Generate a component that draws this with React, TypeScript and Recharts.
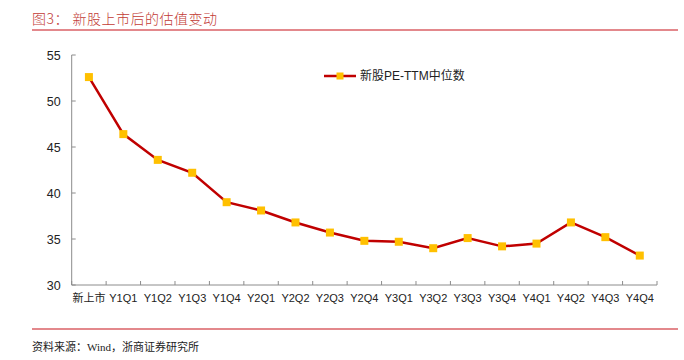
import React from 'react';
import { LineChart, Line, XAxis, YAxis, Legend } from 'recharts';

const categories = ['新上市', 'Y1Q1', 'Y1Q2', 'Y1Q3', 'Y1Q4', 'Y2Q1', 'Y2Q2', 'Y2Q3', 'Y2Q4', 'Y3Q1', 'Y3Q2', 'Y3Q3', 'Y3Q4', 'Y4Q1', 'Y4Q2', 'Y4Q3', 'Y4Q4'];
const peMedian = [52.6, 46.4, 43.6, 42.2, 39.0, 38.1, 36.8, 35.7, 34.8, 34.7, 34.0, 35.1, 34.2, 34.5, 36.8, 35.2, 33.2];
const yTicks = [30, 35, 40, 45, 50, 55];
const seriesName = '新股PE-TTM中位数';
const titleText = '图3： 新股上市后的估值变动';
const sourceText = '资料来源：Wind，浙商证券研究所';

const data = categories.map((c, i) => ({ label: c, pe: peMedian[i] }));

const LINE = '#C00000';
const MARK = '#FFC000';
const AXIS = '#8C8C8C';
const FONT = "'Liberation Sans', Arial, 'Noto Sans CJK SC', sans-serif";
const X_MARGIN = 9;
const Y_MARGIN = 11;
const TICK_LEN = 4;

const SquareDot = (props: any) => {
  const { cx, cy, index } = props;
  if (cx == null || cy == null) return <g key={`d${index}`} />;
  return <rect key={`d${index}`} x={cx - 4} y={cy - 4} width={8} height={8} fill={MARK} />;
};

const XTick = (props: any) => {
  const { x, y, payload, index, visibleTicksCount } = props;
  const half = payload && payload.offset ? payload.offset : 0;
  const axisY = y - X_MARGIN;
  const last = visibleTicksCount != null ? index === visibleTicksCount - 1 : index === categories.length - 1;
  return (
    <g>
      <line x1={x - half} y1={axisY} x2={x - half} y2={axisY - TICK_LEN} stroke={AXIS} />
      {last && <line x1={x + half} y1={axisY} x2={x + half} y2={axisY - TICK_LEN} stroke={AXIS} />}
      <text x={x} y={y} dy="0.71em" textAnchor="middle" fontSize={11} fill="#222" fontFamily={FONT}>
        {payload.value}
      </text>
    </g>
  );
};

const YTick = (props: any) => {
  const { x, y, payload } = props;
  const axisX = x + Y_MARGIN;
  return (
    <g>
      <line x1={axisX} y1={y} x2={axisX + TICK_LEN} y2={y} stroke={AXIS} />
      <text x={x} y={y} dy="0.36em" textAnchor="end" fontSize={12.5} fill="#222" fontFamily={FONT}>
        {payload.value}
      </text>
    </g>
  );
};

const LegendContent = (props: any) => {
  const items = props.payload || [];
  return (
    <div style={{ display: 'flex', alignItems: 'center', fontFamily: FONT, fontSize: 12, color: '#222' }}>
      {items.map((it: any, i: number) => (
        <div key={i} style={{ display: 'flex', alignItems: 'center' }}>
          <svg width={36} height={12} style={{ display: 'block' }}>
            <line x1={0} y1={6} x2={32} y2={6} stroke={LINE} strokeWidth={2.5} />
            <rect x={12.5} y={2.5} width={7} height={7} fill={MARK} />
          </svg>
          <span style={{ lineHeight: '12px' }}>{it.value}</span>
        </div>
      ))}
    </div>
  );
};

export default function App() {
  return (
    <div style={{ position: 'fixed', left: 0, top: 0, width: 684, height: 360, background: '#fff', overflow: 'hidden' }}>
      <div style={{ position: 'absolute', left: 32, top: 11, height: 15, lineHeight: '15px', fontSize: 14, fontWeight: 300, letterSpacing: 0.5, color: '#C23B35', fontFamily: "'Noto Sans CJK SC', serif", whiteSpace: 'pre' }}>
        {titleText}
      </div>
      <div style={{ position: 'absolute', left: 32, top: 29, width: 646, height: 2, background: '#E3888C' }} />
      <div style={{ position: 'absolute', left: 32, top: 328, width: 646, height: 2, background: '#E3888C' }} />
      <div style={{ position: 'absolute', left: 32, top: 341, height: 13, lineHeight: '13px', fontSize: 11, color: '#222', fontFamily: "'Liberation Serif', 'Noto Sans CJK SC', serif", whiteSpace: 'pre' }}>
        {sourceText}
      </div>
      <div style={{ position: 'absolute', left: 0, top: 0 }}>
        <LineChart width={684} height={360} data={data} margin={{ top: 55, right: 27, left: 0, bottom: 45 }}>
          <XAxis
            dataKey="label"
            type="category"
            scale="band"
            height={30}
            tickLine={false}
            axisLine={{ stroke: AXIS }}
            interval={0}
            tickMargin={X_MARGIN}
            tickSize={0}
            tick={<XTick />}
          />
          <YAxis
            domain={[30, 55]}
            ticks={yTicks}
            width={71.7}
            tickLine={false}
            axisLine={{ stroke: AXIS }}
            tickMargin={Y_MARGIN}
            tickSize={0}
            interval={0}
            tick={<YTick />}
          />
          <Legend
            layout="horizontal"
            verticalAlign="middle"
            align="center"
            content={<LegendContent />}
            wrapperStyle={{ position: 'absolute', left: 324, top: 70, width: 'auto' }}
          />
          <Line
            type="linear"
            dataKey="pe"
            name={seriesName}
            stroke={LINE}
            strokeWidth={2.5}
            dot={SquareDot}
            activeDot={false}
            isAnimationActive={false}
          />
        </LineChart>
      </div>
    </div>
  );
}
